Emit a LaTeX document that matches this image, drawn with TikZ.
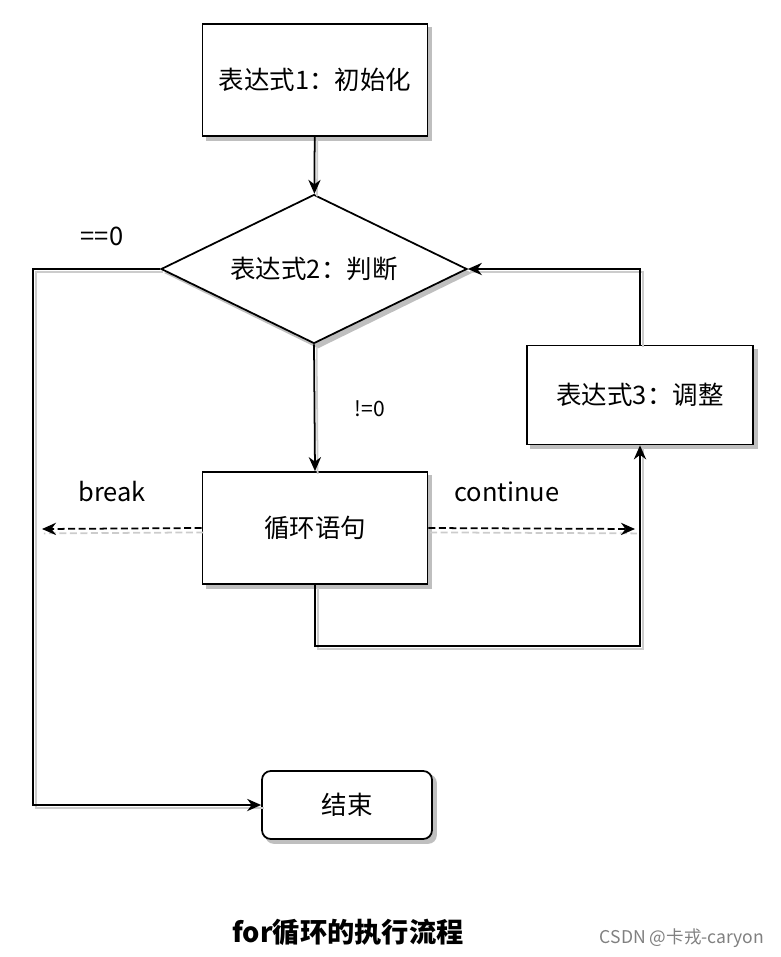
\documentclass[tikz,border=0pt]{standalone}
\usepackage{fontspec}
\setmainfont{Noto Sans CJK SC}
\usetikzlibrary{shapes.geometric,arrows.meta,backgrounds}

\tikzset{
  stepbox/.style={draw,line width=1pt,fill=white,minimum width=4.5cm,minimum height=2.24cm,
    inner sep=0pt,font=\fontsize{14.5}{17}\selectfont},
  decision/.style={draw,line width=1pt,fill=white,diamond,aspect=2.05,minimum width=6.12cm,
    minimum height=2.98cm,inner sep=0pt,font=\fontsize{14.5}{17}\selectfont},
  endbox/.style={draw,line width=1pt,fill=white,rounded corners=5pt,minimum width=3.4cm,
    minimum height=1.36cm,inner sep=0pt,font=\fontsize{14.5}{17}\selectfont},
  shadowfill/.style={fill=gray!50},
  wire/.style={line width=1pt,preaction={draw=gray!40,line width=1pt,-,transform canvas={shift={(1.5pt,-1.5pt)}}}},
  dwire/.style={line width=1pt,dash pattern=on 4pt off 2pt,
    preaction={draw=gray!40,line width=1pt,dash pattern=on 4pt off 2pt,-,transform canvas={shift={(1pt,-2.5pt)}}}},
  lbl/.style={font=\fontsize{14.5}{17}\selectfont}
}

\begin{document}
\begin{tikzpicture}[x=0.02cm,y=-0.02cm,>={Stealth[length=8pt,width=7pt]}]
\useasboundingbox (0,0) rectangle (781,957);
%define the boxes
\node[stepbox] (init) at (315,80) {表达式1：初始化};
\node[decision] (cond) at (314,269) {表达式2：判断};
\node[stepbox] (body) at (315,528) {循环语句};
\node[stepbox,minimum width=4.52cm,minimum height=1.98cm] (adj) at (640,395) {表达式3：调整};
\node[endbox] (stop) at (347,805) {结束};
%shadows behind the boxes
\begin{scope}[on background layer]
\fill[shadowfill] ([shift={(4,4)}]init.south west) rectangle ([shift={(4,4)}]init.north east);
\fill[shadowfill] ([shift={(4,4)}]body.south west) rectangle ([shift={(4,4)}]body.north east);
\fill[shadowfill] ([shift={(4,4)}]adj.south west) rectangle ([shift={(4,4)}]adj.north east);
\fill[shadowfill] ([shift={(4,4)}]cond.north) -- ([shift={(4,4)}]cond.east)
  -- ([shift={(4,4)}]cond.south) -- ([shift={(4,4)}]cond.west) -- cycle;
\fill[shadowfill,rounded corners=5pt] ([shift={(4,4)}]stop.south west) rectangle ([shift={(4,4)}]stop.north east);
\end{scope}
%free ends of the connectors
\coordinate (lft) at (33,500);
\coordinate (brk) at (42,529);
\coordinate (cnt) at (635,529);
\coordinate (bot) at (500,646);
%draw the connectors
\draw[wire,->] (init) -- (cond);
\draw[wire,->] (cond.south) -- (body.north);
\draw[wire,->] (cond.west) -| (lft) |- (stop.west);
\draw[wire,->] (body.south) |- (bot) -| (adj.south);
\draw[wire,->] (adj.north) |- (cond.east);
\draw[dwire,->] (body.west) -- (brk);
\draw[dwire,->] (body.east) -- (cnt);
%labels
\node[lbl] (eq) at (102,236) {==0};
\node[font=\fontsize{12}{14}\selectfont] (ne) at (370,409) {!=0};
\node[lbl] (br) at (112,492) {break};
\node[lbl] (co) at (507,492) {continue};
\node[font=\fontsize{15.5}{18}\selectfont\bfseries] (title) at (348,932) {for循环的执行流程};
\node[font=\fontsize{10}{12}\selectfont,text=gray] (mark) at (682,938) {CSDN @卡戎-caryon};
\end{tikzpicture}
\end{document}
